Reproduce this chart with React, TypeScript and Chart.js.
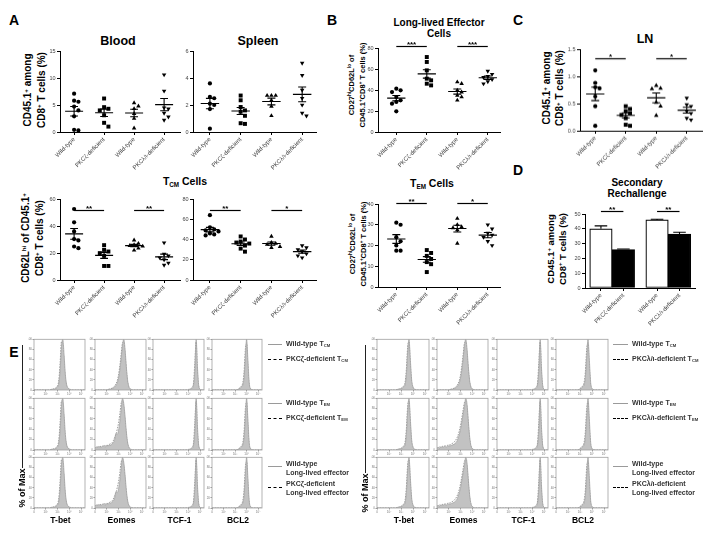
import React, { useEffect, useRef } from "react";
import { Chart, registerables } from "chart.js";

Chart.register(...registerables);

const FONT = '"Liberation Sans", Arial, Helvetica, sans-serif';

/* ---------------- categories & tick labels ---------------- */
const groupLabels = ["Wild-type", "PKCζ-deficient", "Wild-type", "PKCλ/ι-deficient"];
const groupLabelsL = ["Wild-type", "PKCζ-deficient", "Wild-type", "PKCλ/ι-deficient"];
const barPositions = [0, 1, 2.5, 3.5];
const histTickValues = [0, 9, 18, 27, 36];
const histTickLabels = ["0", "10²", "10³", "10⁴", "10⁵"];
const histYTicks = [0, 20, 40, 60, 80, 100];
const markerNames = ["T-bet", "Eomes", "TCF-1", "BCL2"];

/* ---------------- A: Blood ---------------- */
const bloodWtZeta = [7.1, 5.8, 5.6, 4.7, 4.0, 2.9, 0.4, 0.3];
const bloodKoZeta = [6.2, 4.6, 4.3, 4.0, 3.1, 1.7, 1.0];
const bloodWtLambda = [5.4, 4.8, 4.3, 3.4, 2.5, 0.7];
const bloodKoLambda = [10.6, 7.6, 4.5, 4.3, 3.5, 2.8, 2.2];

/* ---------------- A: Spleen ---------------- */
const spleenWtZeta = [3.6, 2.6, 2.5, 2.1, 2.0, 1.7, 0.25];
const spleenKoZeta = [2.7, 2.35, 1.85, 1.6, 1.5, 1.2, 0.65, 0.6];
const spleenWtLambda = [2.7, 2.7, 2.7, 2.35, 1.9, 1.2];
const spleenKoLambda = [5.1, 4.2, 3.1, 2.5, 2.0, 1.4, 1.2];

/* ---------------- A: TCM (left, right) ---------------- */
const tcmBloodWtZeta = [52.6, 42.7, 36, 30.3, 29.3, 24.8, 23.6];
const tcmBloodKoZeta = [25.8, 22.3, 21.1, 19.9, 17.9, 10.4, 10.4];
const tcmBloodWtLambda = [29.5, 27, 26, 25.5, 25, 23.5, 22];
const tcmBloodKoLambda = [27.6, 19.3, 18, 16.5, 15, 12.6, 11];

const tcmSpleenWtZeta = [64, 52, 50, 49, 48, 46, 45, 44];
const tcmSpleenKoZeta = [43, 40, 38, 37, 36, 34, 31, 28];
const tcmSpleenWtLambda = [43, 37, 36, 35, 33, 32];
const tcmSpleenKoLambda = [34, 32, 30, 28, 26, 24, 22];

/* ---------------- B ---------------- */
const lleWtZeta = [41.3, 39.7, 38, 33.3, 30.2, 28.6, 27, 19.7];
const lleKoZeta = [71.4, 66.7, 58.7, 50.8, 49.2, 46, 44.4];
const lleWtLambda = [47.6, 46, 39.7, 38, 34.9, 33.3, 30.2];
const lleKoLambda = [58, 55, 53, 52, 50, 48, 46];

const temWtZeta = [31, 30, 24, 22, 20, 17.5, 17.5];
const temKoZeta = [17.8, 16.4, 15, 13.5, 12, 11, 7.2];
const temWtLambda = [33, 30, 29, 28.5, 27.5, 21];
const temKoLambda = [30, 28, 26, 25, 24, 22, 20];

/* ---------------- C: LN ---------------- */
const lnWtZeta = [1.11, 0.88, 0.8, 0.78, 0.63, 0.45, 0.09];
const lnKoZeta = [0.45, 0.4, 0.36, 0.32, 0.29, 0.23, 0.11, 0.09];
const lnWtLambda = [0.83, 0.78, 0.77, 0.52, 0.45, 0.28];
const lnKoLambda = [0.6, 0.48, 0.45, 0.36, 0.32, 0.23, 0.2];

/* ---------------- D: secondary rechallenge ---------------- */
const rechallengeMeans = [40, 26, 46, 36.5];
const rechallengeSem = [2, 0.4, 0.5, 1.2];

/* ---------------- E: histograms (% of max per bin) ---------------- */
const tbetWt = [0,0,0,0,0,0,0,0,0,0, 0,0,0,1,1,2,2,4,6,14, 40,85,100,70,30,10,4,2,1,0, 0,0,0,0,0,0,0,0,0,0];
const tbetKo = [0,0,0,0,0,0,0,0,0,0, 0,0,0,1,2,2,3,5,8,20, 55,95,90,55,22,8,3,1,0,0, 0,0,0,0,0,0,0,0,0,0];
const tbetWtR = [0,0,0,0,0,0,0,0,0,0, 0,0,0,0,0,1,1,2,3,4, 6,10,30,75,100,60,20,6,2,1, 0,0,0,0,0,0,0,0,0,0];
const tbetKoR = [0,0,0,0,0,0,0,0,0,0, 0,0,0,0,0,1,2,2,3,5, 8,14,40,85,95,50,15,5,1,0, 0,0,0,0,0,0,0,0,0,0];
const eomesTcmWt = [0,0,0,0,0,0,0,0,0,0, 1,1,2,3,4,6,9,14,24,40, 62,88,100,80,45,18,6,2,1,0, 0,0,0,0,0,0,0,0,0,0];
const eomesTcmKo = [0,0,0,0,0,0,0,0,0,0, 1,2,2,4,5,8,12,18,30,48, 70,92,95,70,38,14,5,2,0,0, 0,0,0,0,0,0,0,0,0,0];
const eomesWt = [4,6,5,7,5,6,8,7,6,9, 8,10,9,12,14,20,32,30,38,55, 78,100,90,65,35,14,5,2,1,0, 0,0,0,0,0,0,0,0,0,0];
const eomesKo = [3,5,6,5,7,6,7,9,8,8, 10,11,12,14,18,24,30,40,52,70, 90,96,82,55,28,11,4,1,0,0, 0,0,0,0,0,0,0,0,0,0];
const eomesWtR = [3,5,4,6,5,6,7,6,7,8, 8,9,10,11,13,16,22,30,40,55, 70,85,100,88,55,25,8,3,1,0, 0,0,0,0,0,0,0,0,0,0];
const eomesKoR = [4,4,6,5,7,7,8,8,9,10, 10,12,13,15,18,22,28,36,48,62, 78,92,95,80,48,20,7,2,0,0, 0,0,0,0,0,0,0,0,0,0];
const tcfWt = [0,0,0,0,0,0,0,0,0,0, 0,0,0,0,0,0,0,0,0,0, 0,0,0,0,0,0,0,0,1,2, 4,10,40,100,45,8,2,0,0,0];
const tcfKo = [0,0,0,0,0,0,0,0,0,0, 0,0,0,0,0,0,0,0,0,0, 0,0,0,0,0,0,0,1,2,3, 6,14,55,95,35,6,1,0,0,0];
const bcl2Wt = [0,0,0,0,0,0,0,0,0,0, 0,0,0,0,0,0,0,0,0,0, 1,2,4,6,10,25,65,100,60,15, 3,1,0,0,0,0,0,0,0,0];
const bcl2Ko = [0,0,0,0,0,0,0,0,0,0, 0,0,0,0,0,0,0,0,0,0, 1,3,5,8,14,35,80,92,45,10, 2,0,0,0,0,0,0,0,0,0];
const bcl2WtR = [0,0,0,0,0,0,0,0,0,0, 0,0,0,0,0,0,0,1,2,4, 6,10,25,65,100,60,15,3,1,0, 0,0,0,0,0,0,0,0,0,0];
const bcl2KoR = [0,0,0,0,0,0,0,0,0,0, 0,0,0,0,0,0,0,1,3,5, 8,14,35,80,92,45,10,2,0,0, 0,0,0,0,0,0,0,0,0,0];

/* ---------------- layout (not data) ---------------- */
const histColsLeft = [[34, 85], [95, 146], [153, 204], [212, 262]];
const histColsRight = [[377, 429], [437, 488], [497, 548], [556, 608]];
const histRows = [[339, 390], [398, 450], [457, 508]];

const SHAPES = [
  { style: "circle", r: 2.1, rot: 0 },
  { style: "rect", r: 2.8, rot: 0 },
  { style: "triangle", r: 2.6, rot: 0 },
  { style: "triangle", r: 2.6, rot: 180 },
];

type Sig = { from: number; to: number; y: number; text: string };

function swarm(vals: number[], ypp: number, xpp: number) {
  const placed: { x: number; y: number }[] = [];
  const order = vals.map((_, i) => i).sort((a, b) => vals[b] - vals[a]);
  const out: number[] = new Array(vals.length).fill(0);
  const cands = [0, 1, -1, 2, -2, 3, -3, 4, -4];
  const step = 4.3;
  for (const i of order) {
    const v = vals[i];
    for (const c of cands) {
      const dx = c * step * xpp;
      const ok = placed.every(
        (p) => Math.hypot((p.x - dx) / xpp, (p.y - v) / ypp) >= step
      );
      if (ok) {
        placed.push({ x: dx, y: v });
        out[i] = dx;
        break;
      }
    }
  }
  return out;
}

function drawSig(ctx: CanvasRenderingContext2D, x: any, y: any, sig: Sig[]) {
  sig.forEach((s) => {
    const x1 = x.getPixelForValue(s.from);
    const x2 = x.getPixelForValue(s.to);
    const yy = Math.round(y.getPixelForValue(s.y)) + 0.5;
    ctx.beginPath();
    ctx.lineWidth = 1.2;
    ctx.strokeStyle = "#000";
    ctx.moveTo(x1, yy);
    ctx.lineTo(x2, yy);
    ctx.stroke();
    ctx.fillStyle = "#000";
    ctx.font = `bold 8px ${FONT}`;
    ctx.textAlign = "center";
    ctx.textBaseline = "alphabetic";
    ctx.fillText(s.text, (x1 + x2) / 2, yy + 0.5);
  });
}

function statsPlugin(groups: number[][], sig: Sig[]) {
  return {
    id: "dotStats",
    afterDatasetsDraw(chart: any) {
      const { ctx } = chart;
      const x = chart.scales.x;
      const y = chart.scales.y;
      ctx.save();
      ctx.strokeStyle = "#000";
      ctx.lineWidth = 1.1;
      groups.forEach((vals, i) => {
        const n = vals.length;
        const m = vals.reduce((a, b) => a + b, 0) / n;
        const sd = Math.sqrt(vals.reduce((a, b) => a + (b - m) * (b - m), 0) / (n - 1));
        const se = sd / Math.sqrt(n);
        const ym = y.getPixelForValue(m);
        const yt = y.getPixelForValue(m + se);
        const yb = y.getPixelForValue(Math.max(0, m - se));
        const xc = x.getPixelForValue(i);
        const xl = x.getPixelForValue(i - 0.3);
        const xr = x.getPixelForValue(i + 0.3);
        const cl = x.getPixelForValue(i - 0.13);
        const cr = x.getPixelForValue(i + 0.13);
        ctx.beginPath();
        ctx.moveTo(xl, ym);
        ctx.lineTo(xr, ym);
        ctx.moveTo(xc, yt);
        ctx.lineTo(xc, yb);
        ctx.moveTo(cl, yt);
        ctx.lineTo(cr, yt);
        ctx.moveTo(cl, yb);
        ctx.lineTo(cr, yb);
        ctx.stroke();
      });
      drawSig(ctx, x, y, sig);
      ctx.restore();
    },
  };
}

function barExtrasPlugin(means: number[], sems: number[], pos: number[], sig: Sig[]) {
  return {
    id: "barExtras",
    afterDatasetsDraw(chart: any) {
      const { ctx } = chart;
      const x = chart.scales.x;
      const y = chart.scales.y;
      ctx.save();
      ctx.strokeStyle = "#000";
      ctx.lineWidth = 1.1;
      means.forEach((m, i) => {
        const xc = x.getPixelForValue(pos[i]);
        const yt = y.getPixelForValue(m);
        const ye = y.getPixelForValue(m + sems[i]);
        const cl = x.getPixelForValue(pos[i] - 0.28);
        const cr = x.getPixelForValue(pos[i] + 0.28);
        ctx.beginPath();
        ctx.moveTo(xc, yt);
        ctx.lineTo(xc, ye);
        ctx.moveTo(cl, ye);
        ctx.lineTo(cr, ye);
        ctx.stroke();
      });
      drawSig(ctx, x, y, sig);
      ctx.restore();
    },
  };
}

function xScale(xMin: number, xMax: number, ticks: number[], labels: string[]) {
  return {
    type: "linear",
    min: xMin,
    max: xMax,
    offset: false,
    afterBuildTicks: (ax: any) => {
      ax.ticks = ticks.map((v) => ({ value: v }));
    },
    afterFit: (ax: any) => {
      ax.height = 40;
    },
    ticks: {
      autoSkip: false,
      minRotation: 45,
      maxRotation: 45,
      padding: 1,
      font: { family: FONT, size: 6 },
      color: "#444",
      callback: (_v: any, i: number) => labels[i],
    },
    grid: {
      display: true,
      drawOnChartArea: false,
      drawTicks: true,
      tickLength: 3,
      color: "#000",
      offset: false,
    },
    border: { display: true, color: "#000", width: 1 },
  };
}

function yScale(max: number, step: number, dec: number) {
  return {
    type: "linear",
    min: 0,
    max,
    afterFit: (ax: any) => {
      ax.width = 14;
    },
    ticks: {
      stepSize: step,
      padding: 1.5,
      font: { family: FONT, size: 5.5 },
      color: "#444",
      callback: (v: any) => (dec ? Number(v).toFixed(dec) : String(v)),
    },
    grid: { display: true, drawOnChartArea: false, drawTicks: true, tickLength: 3, color: "#000" },
    border: { display: true, color: "#000", width: 1 },
  };
}

const baseOpts = {
  animation: false,
  responsive: false,
  devicePixelRatio: 1,
  events: [],
  layout: { padding: { left: 16, top: 22, right: 8, bottom: 6 } },
  plugins: { legend: { display: false }, tooltip: { enabled: false } },
};

interface DotSpec {
  area: number[];
  xMin: number;
  xMax: number;
  yMax: number;
  yStep: number;
  dec?: number;
  groups: number[][];
  sig: Sig[];
}

function dotConfig(spec: DotSpec): any {
  const [L, T, R, B] = spec.area;
  const xpp = (spec.xMax - spec.xMin) / (R - L);
  const ypp = spec.yMax / (B - T);
  const datasets = spec.groups.map((vals, gi) => {
    const off = swarm(vals, ypp, xpp);
    return {
      type: "scatter",
      data: vals.map((v, k) => ({ x: gi + off[k], y: v })),
      pointStyle: SHAPES[gi].style,
      pointRadius: SHAPES[gi].r,
      pointRotation: SHAPES[gi].rot,
      backgroundColor: "#000",
      borderColor: "#000",
      borderWidth: 0,
      clip: false,
    };
  });
  return {
    type: "scatter",
    data: { datasets },
    options: {
      ...baseOpts,
      scales: {
        x: xScale(spec.xMin, spec.xMax, [0, 1, 2, 3], groupLabels),
        y: yScale(spec.yMax, spec.yStep, spec.dec || 0),
      },
    },
    plugins: [statsPlugin(spec.groups, spec.sig)],
  };
}

function ChartCanvas({ box, make }: { box: { x: number; y: number; w: number; h: number }; make: () => any }) {
  const ref = useRef<HTMLCanvasElement>(null);
  useEffect(() => {
    const chart = new Chart(ref.current as HTMLCanvasElement, make());
    return () => chart.destroy();
  }, []);
  return (
    <canvas
      ref={ref}
      width={box.w}
      height={box.h}
      style={{ position: "absolute", left: box.x, top: box.y, width: box.w, height: box.h }}
    />
  );
}

function frame(area: number[]) {
  const [L, T, R, B] = area;
  return { x: L - 30, y: T - 22, w: R - L + 38, h: B - T + 68 };
}

function DotPanel({ spec }: { spec: DotSpec }) {
  return <ChartCanvas box={frame(spec.area)} make={() => dotConfig(spec)} />;
}

function BarPanel() {
  const area = [585, 214, 695, 288];
  const make = () => ({
    type: "bar",
    data: {
      datasets: [
        {
          data: rechallengeMeans.map((v, i) => ({ x: barPositions[i], y: v })),
          backgroundColor: ["#fff", "#000", "#fff", "#000"],
          borderColor: "#000",
          borderWidth: 1.2,
          borderSkipped: false,
          barPercentage: 1,
          categoryPercentage: 1,
        },
      ],
    },
    options: {
      ...baseOpts,
      scales: {
        x: xScale(-0.71, 4.19, barPositions, groupLabelsL),
        y: yScale(50, 10, 0),
      },
    },
    plugins: [
      barExtrasPlugin(rechallengeMeans, rechallengeSem, barPositions, [
        { from: 0, to: 1, y: 52, text: "**" },
        { from: 2.5, to: 3.5, y: 52, text: "**" },
      ]),
    ],
  });
  return <ChartCanvas box={frame(area)} make={make} />;
}

function histConfig(wt: number[], ko: number[]): any {
  return {
    type: "line",
    data: {
      datasets: [
        {
          data: wt.map((v, i) => ({ x: i, y: v })),
          fill: "origin",
          backgroundColor: "#c2c2c2",
          borderColor: "#9c9c9c",
          borderWidth: 0.7,
          pointRadius: 0,
          cubicInterpolationMode: "monotone",
        },
        {
          data: ko.map((v, i) => ({ x: i, y: v })),
          fill: false,
          borderColor: "#555",
          borderWidth: 0.6,
          borderDash: [1.5, 1.2],
          pointRadius: 0,
          cubicInterpolationMode: "monotone",
        },
      ],
    },
    options: {
      animation: false,
      responsive: false,
      devicePixelRatio: 1,
      events: [],
      layout: { padding: { left: 2, top: 2, right: 2, bottom: 1 } },
      plugins: { legend: { display: false }, tooltip: { enabled: false } },
      scales: {
        x: {
          type: "linear",
          min: 0,
          max: 39,
          afterBuildTicks: (ax: any) => {
            ax.ticks = histTickValues.map((v) => ({ value: v }));
          },
          afterFit: (ax: any) => {
            ax.height = 5;
          },
          ticks: {
            autoSkip: false,
            maxRotation: 0,
            padding: 0.5,
            font: { family: FONT, size: 3 },
            color: "#777",
            callback: (_v: any, i: number) => histTickLabels[i],
          },
          grid: { drawOnChartArea: false, tickLength: 1.5, color: "#999" },
          border: { display: false },
        },
        y: {
          type: "linear",
          min: 0,
          max: 100,
          afterBuildTicks: (ax: any) => {
            ax.ticks = histYTicks.map((v) => ({ value: v }));
          },
          afterFit: (ax: any) => {
            ax.width = 6;
          },
          ticks: { padding: 0.5, font: { family: FONT, size: 3 }, color: "#777" },
          grid: { drawOnChartArea: false, tickLength: 1.5, color: "#999" },
          border: { display: false },
        },
      },
    },
    plugins: [
      {
        id: "boxFrame",
        afterDraw(chart: any) {
          const { ctx, chartArea: a } = chart;
          ctx.save();
          ctx.strokeStyle = "#a0a0a0";
          ctx.lineWidth = 0.8;
          ctx.strokeRect(a.left, a.top, a.right - a.left, a.bottom - a.top);
          ctx.restore();
        },
      },
    ],
  };
}

function Hist({ col, row, wt, ko }: { col: number[]; row: number[]; wt: number[]; ko: number[] }) {
  const box = { x: col[0] - 8, y: row[0] - 2, w: col[1] - col[0] + 10, h: row[1] - row[0] + 8 };
  return <ChartCanvas box={box} make={() => histConfig(wt, ko)} />;
}

/* ---------------- text helpers ---------------- */
const Sup = ({ children }: any) => (
  <span style={{ fontSize: "0.62em", position: "relative", top: "-0.55em" }}>{children}</span>
);
const Sub = ({ children }: any) => (
  <span style={{ fontSize: "0.6em", position: "relative", top: "0.3em" }}>{children}</span>
);

function Txt({ x, y, size, children, bold = true, color = "#000", left = false }: any) {
  return (
    <div
      style={{
        position: "absolute",
        left: x,
        top: y,
        transform: left ? "translate(0,-50%)" : "translate(-50%,-50%)",
        whiteSpace: "nowrap",
        fontSize: size,
        lineHeight: 1,
        fontWeight: bold ? "bold" : "normal",
        color,
        fontFamily: FONT,
      }}
    >
      {children}
    </div>
  );
}

function VTitle({ x, y, size, lh, children }: any) {
  return (
    <div
      style={{
        position: "absolute",
        left: x,
        top: y,
        transform: "translate(-50%,-50%) rotate(-90deg)",
        whiteSpace: "nowrap",
        textAlign: "center",
        fontSize: size,
        lineHeight: lh + "px",
        fontWeight: "bold",
        fontFamily: FONT,
      }}
    >
      {children}
    </div>
  );
}

function LegLine({ x1, x2, y, dashed }: any) {
  return (
    <div
      style={{
        position: "absolute",
        left: x1,
        top: y - 0.5,
        width: x2 - x1,
        height: 0,
        borderTop: dashed ? "1.2px dashed #000" : "1.4px solid #9a9a9a",
      }}
    />
  );
}

function EGroup({ cols, lineX, textX, vX, pctY, ko, tbet, eomes, bcl2 }: any) {
  const legendColor = "#333";
  const rowsData = [
    [tbet, [eomesTcmWt, eomesTcmKo], [tcfWt, tcfKo], bcl2],
    [tbet, eomes, [tcfWt, tcfKo], bcl2],
    [tbet, eomes, [tcfWt, tcfKo], bcl2],
  ];
  return (
    <>
      {histRows.map((row, r) =>
        cols.map((col: number[], c: number) => (
          <Hist key={`${r}-${c}`} col={col} row={row} wt={rowsData[r][c][0]} ko={rowsData[r][c][1]} />
        ))
      )}
      {cols.map((col: number[], c: number) => (
        <Txt key={"m" + c} x={(col[0] + col[1]) / 2 + 1} y={520} size={8.5}>
          {markerNames[c]}
        </Txt>
      ))}
      <div style={{ position: "absolute", left: vX - 0.5, top: 345, width: 0, height: pctY - 20 - 345, borderLeft: "1.2px solid #222" }} />
      <VTitle x={vX} y={pctY} size={9} lh={10}>
        % of Max
      </VTitle>
      {/* legends */}
      <LegLine x1={lineX[0]} x2={lineX[1]} y={344} />
      <Txt x={textX} y={344} size={7} color={legendColor} left>
        Wild-type T<Sub>CM</Sub>
      </Txt>
      <LegLine x1={lineX[0]} x2={lineX[1]} y={359} dashed />
      <Txt x={textX} y={359} size={7} color={legendColor} left>
        {ko}-deficient T<Sub>CM</Sub>
      </Txt>
      <LegLine x1={lineX[0]} x2={lineX[1]} y={403} />
      <Txt x={textX} y={403} size={7} color={legendColor} left>
        Wild-type T<Sub>EM</Sub>
      </Txt>
      <LegLine x1={lineX[0]} x2={lineX[1]} y={418} dashed />
      <Txt x={textX} y={418} size={7} color={legendColor} left>
        {ko}-deficient T<Sub>EM</Sub>
      </Txt>
      <LegLine x1={lineX[0]} x2={lineX[1]} y={466} />
      <Txt x={textX} y={463} size={7} color={legendColor} left>
        Wild-type
      </Txt>
      <Txt x={textX} y={471.5} size={7} color={legendColor} left>
        Long-lived effector
      </Txt>
      <LegLine x1={lineX[0]} x2={lineX[1]} y={487} dashed />
      <Txt x={textX} y={483} size={7} color={legendColor} left>
        {ko}-deficient
      </Txt>
      <Txt x={textX} y={491.5} size={7} color={legendColor} left>
        Long-lived effector
      </Txt>
    </>
  );
}

/* ---------------- chart specs ---------------- */
const bloodSpec: DotSpec = {
  area: [60, 50.5, 180, 132], xMin: -0.47, xMax: 3.53, yMax: 15, yStep: 5,
  groups: [bloodWtZeta, bloodKoZeta, bloodWtLambda, bloodKoLambda], sig: [],
};
const spleenSpec: DotSpec = {
  area: [193, 50.5, 316, 132], xMin: -0.55, xMax: 3.45, yMax: 6, yStep: 2,
  groups: [spleenWtZeta, spleenKoZeta, spleenWtLambda, spleenKoLambda], sig: [],
};
const tcmBloodSpec: DotSpec = {
  area: [60, 199, 180, 280], xMin: -0.47, xMax: 3.53, yMax: 60, yStep: 20,
  groups: [tcmBloodWtZeta, tcmBloodKoZeta, tcmBloodWtLambda, tcmBloodKoLambda],
  sig: [
    { from: 0, to: 1, y: 52, text: "**" },
    { from: 2, to: 3, y: 52, text: "**" },
  ],
};
const tcmSpleenSpec: DotSpec = {
  area: [193, 199, 316, 280], xMin: -0.55, xMax: 3.45, yMax: 80, yStep: 20,
  groups: [tcmSpleenWtZeta, tcmSpleenKoZeta, tcmSpleenWtLambda, tcmSpleenKoLambda],
  sig: [
    { from: 0, to: 1, y: 69, text: "**" },
    { from: 2, to: 3, y: 69, text: "*" },
  ],
};
const lleSpec: DotSpec = {
  area: [378, 48, 500, 132], xMin: -0.6, xMax: 3.4, yMax: 80, yStep: 20,
  groups: [lleWtZeta, lleKoZeta, lleWtLambda, lleKoLambda],
  sig: [
    { from: 0, to: 1, y: 81.5, text: "***" },
    { from: 2, to: 3, y: 81.5, text: "***" },
  ],
};
const temSpec: DotSpec = {
  area: [378, 204, 500, 287], xMin: -0.6, xMax: 3.4, yMax: 40, yStep: 10,
  groups: [temWtZeta, temKoZeta, temWtLambda, temKoLambda],
  sig: [
    { from: 0, to: 1, y: 40.6, text: "**" },
    { from: 2, to: 3, y: 40.6, text: "*" },
  ],
};
const lnSpec: DotSpec = {
  area: [580, 49.3, 702, 131], xMin: -0.5, xMax: 3.5, yMax: 1.5, yStep: 0.5, dec: 1,
  groups: [lnWtZeta, lnKoZeta, lnWtLambda, lnKoLambda],
  sig: [
    { from: 0, to: 1, y: 1.33, text: "*" },
    { from: 2, to: 3, y: 1.33, text: "*" },
  ],
};

export default function App() {
  return (
    <div
      style={{
        position: "absolute",
        left: 0,
        top: 0,
        width: 714,
        height: 533,
        background: "#fff",
        overflow: "hidden",
        fontFamily: FONT,
      }}
    >
      {/* panel letters */}
      <Txt x={14} y={20} size={14}>A</Txt>
      <Txt x={332} y={20} size={14}>B</Txt>
      <Txt x={518} y={20} size={14}>C</Txt>
      <Txt x={518} y={170} size={14}>D</Txt>
      <Txt x={14} y={352} size={14}>E</Txt>

      {/* titles */}
      <Txt x={118} y={41} size={12.5}>Blood</Txt>
      <Txt x={258} y={41} size={12.5}>Spleen</Txt>
      <Txt x={185} y={181} size={10.5}>
        T<Sub>CM</Sub> Cells
      </Txt>
      <Txt x={439} y={23} size={10}>Long-lived Effector</Txt>
      <Txt x={439} y={34} size={10}>Cells</Txt>
      <Txt x={432} y={183} size={10.5}>
        T<Sub>EM</Sub> Cells
      </Txt>
      <Txt x={645} y={39} size={12.5}>LN</Txt>
      <Txt x={637} y={183} size={10}>Secondary</Txt>
      <Txt x={637} y={194} size={10}>Rechallenge</Txt>

      {/* y-axis titles */}
      <VTitle x={36.4} y={90} size={10} lh={12.7}>
        <div>CD45.1<Sup>+</Sup> among</div>
        <div>CD8<Sup>+</Sup> T cells (%)</div>
      </VTitle>
      <VTitle x={34.4} y={238} size={10} lh={12.7}>
        <div>CD62L<Sup>hi</Sup> of CD45.1<Sup>+</Sup></div>
        <div>CD8<Sup>+</Sup> T cells (%)</div>
      </VTitle>
      <VTitle x={358} y={85} size={7.5} lh={9.7}>
        <div>CD27<Sup>hi</Sup>CD62L<Sup>lo</Sup> of</div>
        <div>CD45.1<Sup>+</Sup>CD8<Sup>+</Sup> T cells (%)</div>
      </VTitle>
      <VTitle x={358.5} y={244} size={7.5} lh={9.7}>
        <div>CD27<Sup>hi</Sup>CD62L<Sup>lo</Sup> of</div>
        <div>CD45.1<Sup>+</Sup>CD8<Sup>+</Sup> T cells (%)</div>
      </VTitle>
      <VTitle x={554} y={88} size={10} lh={12}>
        <div>CD45.1<Sup>+</Sup> among</div>
        <div>CD8<Sup>+</Sup> T cells (%)</div>
      </VTitle>
      <VTitle x={557} y={249} size={9.5} lh={10.5}>
        <div>CD45.1<Sup>+</Sup> among</div>
        <div>CD8<Sup>+</Sup> T cells (%)</div>
      </VTitle>

      {/* scatter dot plots */}
      <DotPanel spec={bloodSpec} />
      <DotPanel spec={spleenSpec} />
      <DotPanel spec={tcmBloodSpec} />
      <DotPanel spec={tcmSpleenSpec} />
      <DotPanel spec={lleSpec} />
      <DotPanel spec={temSpec} />
      <DotPanel spec={lnSpec} />
      <BarPanel />

      {/* E: histograms */}
      <EGroup
        cols={histColsLeft}
        lineX={[268, 282]}
        textX={286}
        vX={22}
        pctY={488}
        ko="PKCζ"
        tbet={[tbetWt, tbetKo]}
        eomes={[eomesWt, eomesKo]}
        bcl2={[bcl2Wt, bcl2Ko]}
      />
      <EGroup
        cols={histColsRight}
        lineX={[613, 628]}
        textX={632}
        vX={365}
        pctY={493}
        ko="PKCλ/ι"
        tbet={[tbetWtR, tbetKoR]}
        eomes={[eomesWtR, eomesKoR]}
        bcl2={[bcl2WtR, bcl2KoR]}
      />
    </div>
  );
}
